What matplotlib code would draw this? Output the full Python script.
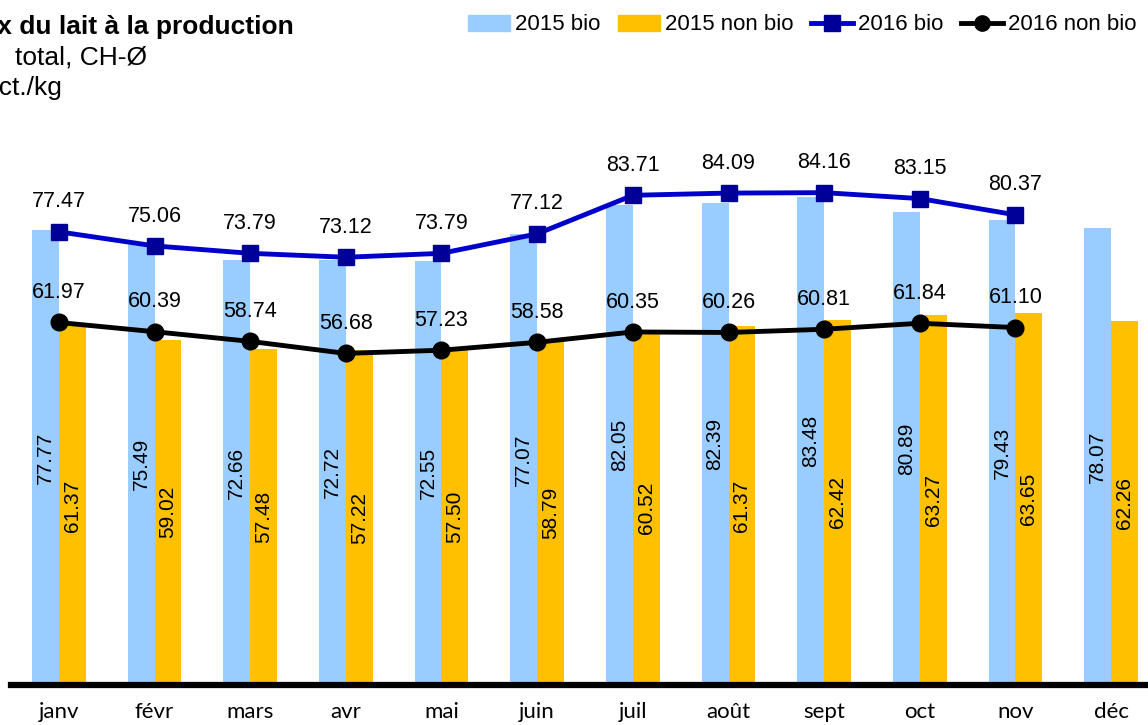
import matplotlib.pyplot as plt
from matplotlib.patches import Patch
from matplotlib.lines import Line2D
import numpy as np

months = ['janv', 'févr', 'mars', 'avr', 'mai', 'juin', 'juil', 'août',
          'sept', 'oct', 'nov', 'déc']

bio_2015 = [77.77, 75.49, 72.66, 72.72, 72.55, 77.07, 82.05, 82.39, 83.48,
            80.89, 79.43, 78.07]
nonbio_2015 = [61.37, 59.02, 57.48, 57.22, 57.50, 58.79, 60.52, 61.37, 62.42,
               63.27, 63.65, 62.26]
bio_2016 = [77.47, 75.06, 73.79, 73.12, 73.79, 77.12, 83.71, 84.09, 84.16,
            83.15, 80.37]
nonbio_2016 = [61.97, 60.39, 58.74, 56.68, 57.23, 58.58, 60.35, 60.26, 60.81,
               61.84, 61.10]

c_bio15 = '#99CCFF'
c_non15 = '#FFC000'
c_bio16 = '#0000CC'
c_bio16_mk = '#000099'
c_non16 = '#000000'

plt.rcParams['font.family'] = ['Liberation Sans', 'DejaVu Sans']

W, H = 1148, 725
fig = plt.figure(figsize=(W / 100, H / 100), dpi=100)
ax = fig.add_axes([11 / W, 40 / H, 1.0, 585 / H])

x = np.arange(len(months))
bw = 0.28
b1 = ax.bar(x - bw / 2, bio_2015, bw, color=c_bio15, zorder=1)
b2 = ax.bar(x + bw / 2, nonbio_2015, bw, color=c_non15, zorder=1)

# values written vertically in the middle of each bar
for bars, vals in ((b1, bio_2015), (b2, nonbio_2015)):
    for r, v in zip(bars, vals):
        ax.text(r.get_x() + r.get_width() / 2, v / 2, f'{v:.2f}',
                rotation=90, ha='center', va='center', fontsize=15,
                zorder=3)

x16 = np.arange(len(bio_2016))
ax.plot(x16, bio_2016, color=c_bio16, lw=3.5, marker='s', ms=12,
        mfc=c_bio16_mk, mec=c_bio16_mk, zorder=4)
ax.plot(x16, nonbio_2016, color=c_non16, lw=3.5, marker='o', ms=12,
        mfc=c_non16, mec=c_non16, zorder=4)

for vals in (bio_2016, nonbio_2016):
    for xi, v in zip(x16, vals):
        ax.annotate(f'{v:.2f}', (xi, v), xytext=(0, 21.5),
                    textcoords='offset points', ha='center', va='center',
                    fontsize=15.5, zorder=5)

ax.set_xlim(-0.5, 11.5)
ax.set_ylim(0, 100)
ax.set_xticks(x)
ax.set_xticklabels(months, family=['Lato', 'DejaVu Sans'], fontsize=16)
ax.tick_params(axis='x', length=0, pad=12)
ax.set_yticks([])
for s in ('left', 'right', 'top'):
    ax.spines[s].set_visible(False)
ax.spines['bottom'].set_linewidth(4.5)
ax.spines['bottom'].set_zorder(2)

# title block, its left part runs past the figure edge
x0 = -38 / W
fig.text(x0, 1 - 27 / H, 'Prix du lait à la production', fontsize=19,
         fontweight='bold', va='center')
fig.text(15 / W, 1 - 58 / H, 'total, CH-Ø', fontsize=19, va='center')
fig.text(x0, 1 - 88 / H, 'en ct./kg', fontsize=19, va='center')

handles = [
    Patch(color=c_bio15, label='2015 bio'),
    Patch(color=c_non15, label='2015 non bio'),
    Line2D([], [], color=c_bio16, lw=3.5, marker='s', ms=12,
           mfc=c_bio16_mk, mec=c_bio16_mk, label='2016 bio'),
    Line2D([], [], color=c_non16, lw=3.5, marker='o', ms=11,
           label='2016 non bio'),
]
fig.legend(handles=handles, loc='center right', ncol=4, frameon=False,
           bbox_to_anchor=(1136 / W, 1 - 25 / H), fontsize=16,
           handlelength=1.9, handletextpad=0.2, columnspacing=0.8,
           borderpad=0, borderaxespad=0)

fig.savefig('out.png', dpi=100)
